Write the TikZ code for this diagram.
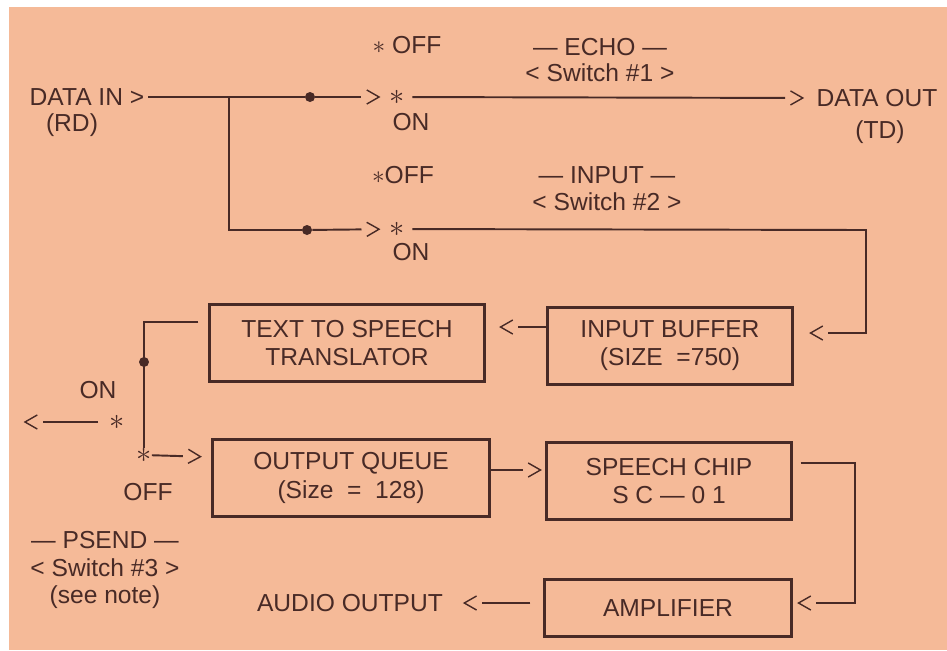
\documentclass[tikz,border=0pt]{standalone}
\usepackage{fontspec}
\setmainfont{Liberation Sans}
\usetikzlibrary{decorations.markings}
\definecolor{paper}{RGB}{245,186,152}
\definecolor{ink}{RGB}{72,42,38}

\begin{document}
\begin{tikzpicture}[x=0.02cm, y=-0.02cm,
  every node/.style={font=\fontsize{14}{16}\selectfont, text=ink, inner sep=2pt},
  box/.style={draw=ink, line width=1.2pt, align=center, minimum height=1.54cm},
  wire/.style={draw=ink, line width=1.1pt},
  gt/.style={wire, shorten >=#1+10pt,
    postaction={decorate, decoration={markings, mark=at position -#1 with
      {\draw[ink, line width=0.8pt, shorten >=0pt, shorten <=0pt] (-7pt,4pt) -- (0,0) -- (-7pt,-4pt);}}}},
  dot/.style={circle, fill=ink, inner sep=0pt, minimum size=0.2cm},
  star/.style={inner sep=0pt, font=\fontsize{16}{16}\selectfont}]

\useasboundingbox (0,0) rectangle (947,650);
\fill[white] (0,0) rectangle (947,650);
\fill[paper] (9,7) rectangle (947,650);

% Data in
\node (din) at (87,97) {DATA IN >};
\node (rd) at (72,125) {(RD)};
\node[dot] (dot1) at (310,97) {};
\node[dot] (dot2) at (307,230) {};
\coordinate (j1) at (229,97);

\draw[wire] (din.east) -- (dot1);
\draw[wire] (j1) |- (dot2);

% Switch #1 (echo)
\node[star] (s1) at (397,97) {$\ast$};
\node (s1off) at (407,45) {$\ast$ OFF};
\node (s1on) at (411,122) {ON};
\node (echo) at (600,47) {\textemdash\ ECHO \textemdash};
\node (sw1) at (600,73) {< Switch \#1 >};
\node (dout) at (877,98) {DATA OUT};
\node (td) at (880,132) {(TD)};

\draw[gt=0.2cm] (dot1) -- (s1);
\draw[gt=0.2cm, shorten <=0.15cm] (s1) -- (dout.west);

% Switch #2 (input)
\node[star] (s2) at (397,229) {$\ast$};
\node (s2off) at (403,175) {$\ast$OFF};
\node (s2on) at (411,252) {ON};
\node (input) at (607,175) {\textemdash\ INPUT \textemdash};
\node (sw2) at (607,202) {< Switch \#2 >};
\coordinate (c2) at (866,230);

\draw[gt=0.2cm] (dot2) -- (s2);

% Boxes
\node[box, minimum width=4.9cm] (ib) at (670,346) {INPUT BUFFER\\(SIZE~ =750)};
\node[box, minimum width=5.5cm] (tts) at (347,343) {TEXT TO SPEECH\\TRANSLATOR};
\node[box, minimum width=5.54cm] (oq) at (351,478) {OUTPUT QUEUE\\(Size ~=~ 128)};
\node[box, minimum width=4.9cm] (sc) at (669,481) {SPEECH CHIP\\S C \textemdash{} 0 1};
\node[box, minimum width=4.94cm, minimum height=1.14cm] (amp) at (668,608) {AMPLIFIER};
\node (audio) at (350,603) {AUDIO OUTPUT};
\coordinate (c3) at (855,463);

\draw[gt=0.34cm, shorten <=0.15cm] (s2) -- (c2) |- ([shift={(0,-13)}]ib.east);
\draw[gt=0.3cm] ([shift={(0,-19)}]ib.west) -- ([shift={(0,-16)}]tts.east);
\draw[gt=0.1cm] ([shift={(0,-8)}]oq.east) -- ([shift={(0,-11)}]sc.west);
\draw[gt=0.12cm, shorten <=0.16cm] ([shift={(0,-18)}]sc.east) -- (c3) |- ([shift={(0,-5)}]amp.east);
\draw[gt=0.35cm, shorten <=0.26cm] ([shift={(0,-5)}]amp.west) -- (audio.east);

% Switch #3 (psend)
\node[dot] (dot3) at (144,362) {};
\node[star] (s3off) at (144,455) {$\ast$};
\node[star] (s3on) at (117,422) {$\ast$};
\node (s3onl) at (98,390) {ON};
\node (s3offl) at (148,492) {OFF};
\coordinate (ono) at (24,422);
\node (psend) at (105,540) {\textemdash\ PSEND \textemdash};
\node (sw3) at (105,568) {< Switch \#3 >};
\node (note) at (105,597) {(see note)};

\draw[wire, shorten <=0.2cm] ([shift={(0,-21)}]tts.west) -| (s3off.north);
\draw[gt=0.02cm, shorten <=0.22cm] (s3on) -- (ono);
\draw[gt=0.22cm] (s3off) -- ([shift={(0,-21)}]oq.west);

\end{tikzpicture}
\end{document}
